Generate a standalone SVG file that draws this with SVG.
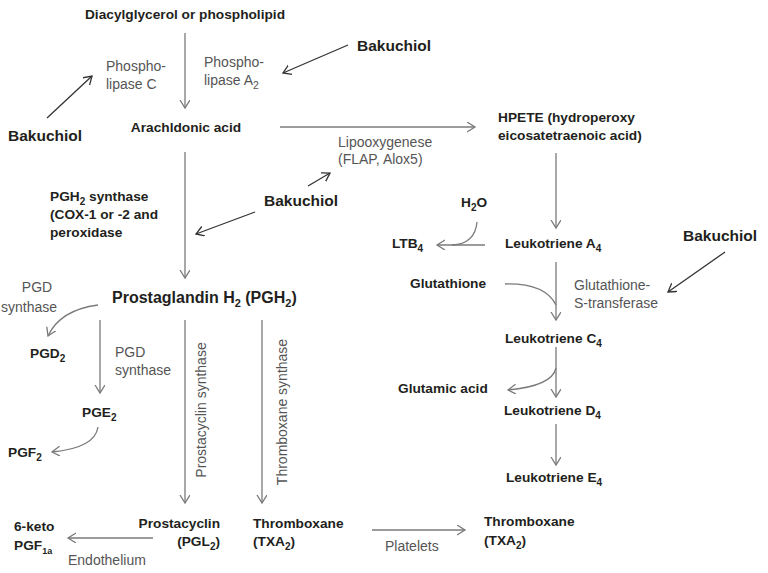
<svg xmlns="http://www.w3.org/2000/svg" width="768" height="573" viewBox="0 0 768 573">
<style>
text{font-family:"Liberation Sans",Arial,sans-serif}
.b{font-weight:bold;font-size:13.7px;fill:#231f20}
.bk{font-weight:bold;font-size:15.5px;fill:#231f20}
.big{font-weight:bold;font-size:16px;fill:#231f20}
.g{font-size:14px;fill:#555}
.ln{fill:none;stroke:#7a7a7a;stroke-width:1.3}
.dk{fill:none;stroke:#333;stroke-width:1.3}
</style>
<defs>
<marker id="ah" markerUnits="userSpaceOnUse" markerWidth="12" markerHeight="12" refX="8" refY="5" orient="auto">
<path d="M0,0 L8,5 L0,10" fill="none" stroke="#7a7a7a" stroke-width="1.3"/>
</marker>
<marker id="ahd" markerUnits="userSpaceOnUse" markerWidth="12" markerHeight="12" refX="8" refY="5" orient="auto">
<path d="M0,0 L8,5 L0,10" fill="none" stroke="#333" stroke-width="1.3"/>
</marker>
</defs>
<rect width="768" height="573" fill="#fff"/>
<g id="connectors">
<line class="ln" x1="185" y1="33" x2="185" y2="108" marker-end="url(#ah)"/>
<line class="dk" x1="348" y1="45" x2="283" y2="73" marker-end="url(#ahd)"/>
<line class="dk" x1="47" y1="118" x2="92" y2="76" marker-end="url(#ahd)"/>
<line class="ln" x1="280" y1="127" x2="475" y2="127" marker-end="url(#ah)"/>
<line class="dk" x1="308" y1="186" x2="330" y2="173" marker-end="url(#ahd)"/>
<line class="dk" x1="255" y1="212" x2="196" y2="234" marker-end="url(#ahd)"/>
<line class="ln" x1="185" y1="152" x2="185" y2="278" marker-end="url(#ah)"/>
<path class="ln" d="M98,305 Q60,310 48,336" marker-end="url(#ah)"/>
<line class="ln" x1="100" y1="320" x2="100" y2="393" marker-end="url(#ah)"/>
<path class="ln" d="M98,427 Q95,448 52,452" marker-end="url(#ah)"/>
<line class="ln" x1="185" y1="320" x2="185" y2="503" marker-end="url(#ah)"/>
<line class="ln" x1="262" y1="320" x2="262" y2="503" marker-end="url(#ah)"/>
<line class="ln" x1="153" y1="538" x2="68" y2="538" marker-end="url(#ah)"/>
<line class="ln" x1="372" y1="530" x2="465" y2="530" marker-end="url(#ah)"/>
<line class="ln" x1="556" y1="153" x2="556" y2="228" marker-end="url(#ah)"/>
<line class="ln" x1="485" y1="245" x2="437" y2="245" marker-end="url(#ah)"/>
<path class="ln" d="M477,222 Q475,244 452,245"/>
<line class="ln" x1="556" y1="262" x2="556" y2="320" marker-end="url(#ah)"/>
<path class="ln" d="M505,284 Q545,283 556,305"/>
<line class="dk" x1="725" y1="252" x2="668" y2="292" marker-end="url(#ahd)"/>
<line class="ln" x1="556" y1="347" x2="556" y2="397" marker-end="url(#ah)"/>
<path class="ln" d="M556,368 Q552,386 508,390" marker-end="url(#ah)"/>
<line class="ln" x1="556" y1="424" x2="556" y2="465" marker-end="url(#ah)"/>
</g>
<g id="diacylglycerol"><text class="b" x="185" y="19" text-anchor="middle" font-size="14.3">Diacylglycerol or phospholipid</text></g>
<g id="plc"><text class="g" x="106" y="71">Phospho-</text><text class="g" x="106" y="89">lipase C</text></g>
<g id="pla2"><text class="g" x="204" y="67">Phospho-</text><text class="g" x="204" y="85">lipase A<tspan font-size="10.5" dy="4">2</tspan></text></g>
<g id="bakuchiol1"><text class="bk" x="357" y="51">Bakuchiol</text></g>
<g id="bakuchiol2"><text class="bk" x="8" y="141">Bakuchiol</text></g>
<g id="arachidonic"><text class="b" x="186" y="132" text-anchor="middle">Arachldonic acid</text></g>
<g id="lipoxygenase"><text class="g" x="338" y="147">Lipooxygenese</text><text class="g" x="338" y="164">(FLAP, Alox5)</text></g>
<g id="bakuchiol3"><text class="bk" x="264" y="206">Bakuchiol</text></g>
<g id="pgh2synthase"><text class="b" x="50" y="201">PGH<tspan font-size="10" dy="4">2</tspan><tspan dy="-4"> synthase</tspan></text><text class="b" x="50" y="219">(COX-1 or -2 and</text><text class="b" x="50" y="237">peroxidase</text></g>
<g id="pgh2"><text class="big" x="112" y="303">Prostaglandin H<tspan font-size="11" dy="4">2</tspan><tspan dy="-4"> (PGH</tspan><tspan font-size="11" dy="4">2</tspan><tspan dy="-4">)</tspan></text></g>
<g id="pgdsynthase1"><text class="g" x="37" y="292" text-anchor="middle">PGD</text><text class="g" x="1" y="312">synthase</text></g>
<g id="pgd2"><text class="b" x="30" y="358">PGD<tspan font-size="10" dy="4">2</tspan></text></g>
<g id="pgdsynthase2"><text class="g" x="115" y="357">PGD</text><text class="g" x="115" y="375">synthase</text></g>
<g id="pge2"><text class="b" x="82" y="417">PGE<tspan font-size="10" dy="4">2</tspan></text></g>
<g id="pgf2"><text class="b" x="8" y="457">PGF<tspan font-size="10" dy="4">2</tspan></text></g>
<g id="prostacyclinsynthase"><text class="g" transform="translate(206,410) rotate(-90)" text-anchor="middle">Prostacyclin synthase</text></g>
<g id="thromboxanesynthase"><text class="g" transform="translate(287,412) rotate(-90)" text-anchor="middle">Thromboxane synthase</text></g>
<g id="prostacyclin"><text class="b" x="220" y="528" text-anchor="end">Prostacyclin</text><text class="b" x="220" y="546" text-anchor="end">(PGL<tspan font-size="10" dy="4">2</tspan><tspan dy="-4">)</tspan></text></g>
<g id="thromboxane1"><text class="b" x="253" y="528">Thromboxane</text><text class="b" x="253" y="546">(TXA<tspan font-size="10" dy="4">2</tspan><tspan dy="-4">)</tspan></text></g>
<g id="ketopgf"><text class="b" x="14" y="531">6-keto</text><text class="b" x="14" y="550">PGF<tspan font-size="9" dy="4">1a</tspan></text></g>
<g id="endothelium"><text class="g" x="68" y="565">Endothelium</text></g>
<g id="platelets"><text class="g" x="385" y="551">Platelets</text></g>
<g id="thromboxane2"><text class="b" x="484" y="526">Thromboxane</text><text class="b" x="484" y="545">(TXA<tspan font-size="10" dy="4">2</tspan><tspan dy="-4">)</tspan></text></g>
<g id="hpete"><text class="b" x="498" y="122">HPETE (hydroperoxy</text><text class="b" x="498" y="140">eicosatetraenoic acid)</text></g>
<g id="lta4"><text class="b" x="505" y="248">Leukotriene A<tspan font-size="10" dy="4">4</tspan></text></g>
<g id="h2o"><text class="b" x="461" y="207">H<tspan font-size="10" dy="4">2</tspan><tspan dy="-4">O</tspan></text></g>
<g id="ltb4"><text class="b" x="392" y="248">LTB<tspan font-size="10" dy="4">4</tspan></text></g>
<g id="glutathione"><text class="b" x="410" y="288">Glutathione</text></g>
<g id="gst"><text class="g" x="574" y="290">Glutathione-</text><text class="g" x="574" y="308">S-transferase</text></g>
<g id="bakuchiol4"><text class="bk" x="683" y="241">Bakuchiol</text></g>
<g id="ltc4"><text class="b" x="505" y="343">Leukotriene C<tspan font-size="10" dy="4">4</tspan></text></g>
<g id="glutamic"><text class="b" x="398" y="393">Glutamic acid</text></g>
<g id="ltd4"><text class="b" x="504" y="415">Leukotriene D<tspan font-size="10" dy="4">4</tspan></text></g>
<g id="lte4"><text class="b" x="506" y="482">Leukotriene E<tspan font-size="10" dy="4">4</tspan></text></g>
</svg>
